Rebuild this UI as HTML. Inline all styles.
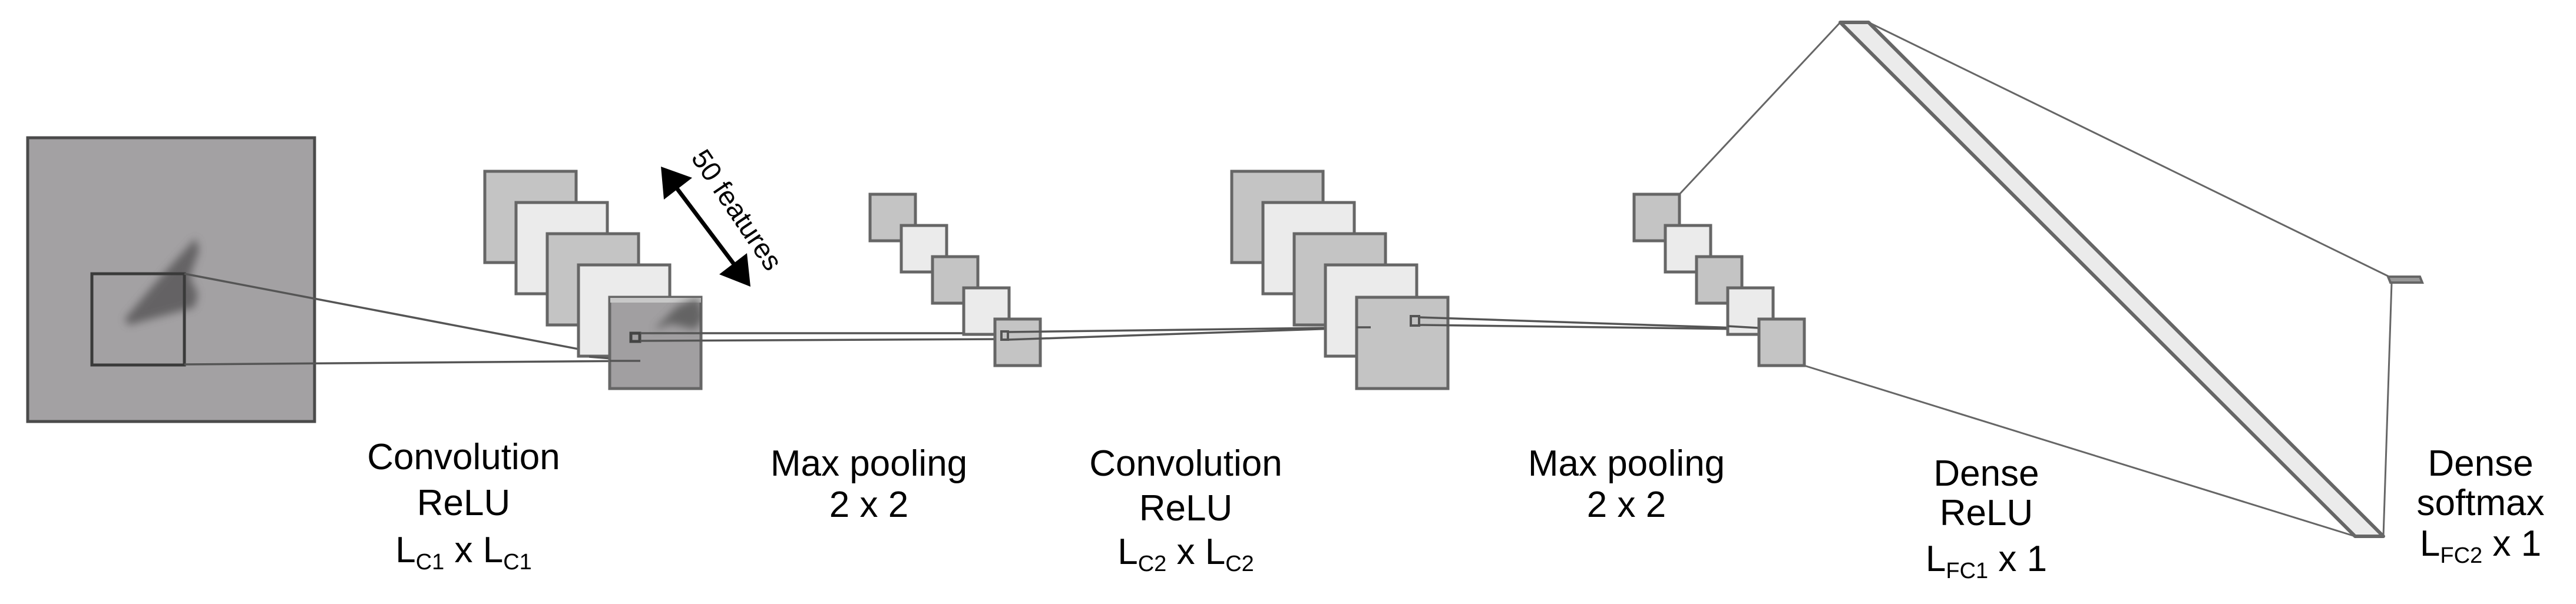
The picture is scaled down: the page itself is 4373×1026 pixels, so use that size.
<!DOCTYPE html>
<html><head><meta charset="utf-8"><style>html,body{margin:0;padding:0;background:#fff}svg{display:block}</style></head>
<body>
<svg width="4373" height="1026" viewBox="0 0 4373 1026" xmlns="http://www.w3.org/2000/svg" font-family="Liberation Sans, sans-serif">
<defs>
<filter id="bl" x="-50%" y="-50%" width="200%" height="200%"><feGaussianBlur stdDeviation="7"/></filter>
<clipPath id="c1"><rect x="1036" y="506" width="154" height="151"/></clipPath>
</defs>
<!-- input -->
<rect x="47" y="234" width="487" height="482" fill="#a3a1a3" stroke="#4a4a4a" stroke-width="5"/>
<g filter="url(#bl)" fill="#5a585a" opacity="0.85">
<path d="M332 405 L338 425 L322 470 L336 500 L330 522 L300 530 L218 552 L212 542 L260 485 L300 440 Z"/>
</g>
<rect x="156" y="465" width="157" height="155" fill="none" stroke="#3a3a3a" stroke-width="5"/>
<line x1="313" y1="465" x2="1087" y2="613" stroke="#555" stroke-width="3.5"/>
<line x1="313" y1="619" x2="1087" y2="613" stroke="#555" stroke-width="3.5"/>
<!-- conv1 -->
<rect x="823" y="291" width="155" height="155" fill="#c4c4c4" stroke="#666" stroke-width="5"/>
<rect x="876" y="344" width="155" height="155" fill="#ebebeb" stroke="#666" stroke-width="5"/>
<rect x="929" y="397" width="155" height="155" fill="#c4c4c4" stroke="#666" stroke-width="5"/>
<rect x="982" y="450" width="155" height="155" fill="#ebebeb" stroke="#666" stroke-width="5"/>
<line x1="1000" y1="606" x2="1087" y2="613" stroke="#555" stroke-width="3.5"/>
<rect x="1035" y="505" width="155" height="155" fill="#a19fa1" stroke="#666" stroke-width="5"/>
<g clip-path="url(#c1)">
<rect x="1036" y="506" width="154" height="8" fill="#c8c8c8"/>
<g filter="url(#bl)" fill="#555" opacity="0.8"><path d="M1110 560 L1150 520 L1185 505 L1195 540 L1180 560 L1140 550 Z"/></g>
</g>
<line x1="1035" y1="613" x2="1087" y2="613" stroke="#555" stroke-width="3.5"/>
<rect x="1071" y="566" width="15" height="14" fill="none" stroke="#444" stroke-width="5"/>
<!-- arrow -->
<line x1="1140" y1="308" x2="1256" y2="462" stroke="#000" stroke-width="7"/>
<polygon points="1122,283 1175,302 1127,339" fill="#000"/>
<polygon points="1274,487 1221,466 1268,430" fill="#000"/>
<text x="0" y="0" font-size="47" transform="translate(1172,268) rotate(56)">50 features</text>
<!-- lines conv1 -> pool1 -->
<line x1="1087" y1="566" x2="1705" y2="566" stroke="#555" stroke-width="3.5"/>
<line x1="1087" y1="579" x2="1705" y2="576" stroke="#555" stroke-width="3.5"/>
<!-- pool1 -->
<rect x="1477" y="330" width="77" height="79" fill="#c4c4c4" stroke="#666" stroke-width="5"/>
<rect x="1530" y="383" width="77" height="79" fill="#ebebeb" stroke="#666" stroke-width="5"/>
<rect x="1583" y="436" width="77" height="79" fill="#c4c4c4" stroke="#666" stroke-width="5"/>
<rect x="1636" y="489" width="77" height="79" fill="#ebebeb" stroke="#666" stroke-width="5"/>
<rect x="1689" y="542" width="77" height="79" fill="#c4c4c4" stroke="#666" stroke-width="5"/>
<rect x="1700" y="563" width="11" height="14" fill="none" stroke="#555" stroke-width="4"/>
<line x1="1711" y1="564" x2="2327" y2="556" stroke="#555" stroke-width="3.5"/>
<line x1="1711" y1="577" x2="2327" y2="556" stroke="#555" stroke-width="3.5"/>
<!-- conv2 -->
<rect x="2091" y="291" width="155" height="155" fill="#c4c4c4" stroke="#666" stroke-width="5"/>
<rect x="2144" y="344" width="155" height="155" fill="#ebebeb" stroke="#666" stroke-width="5"/>
<rect x="2197" y="397" width="155" height="155" fill="#c4c4c4" stroke="#666" stroke-width="5"/>
<rect x="2250" y="450" width="155" height="155" fill="#ebebeb" stroke="#666" stroke-width="5"/>
<rect x="2303" y="505" width="155" height="155" fill="#c4c4c4" stroke="#666" stroke-width="5"/>
<line x1="2303" y1="556" x2="2327" y2="556" stroke="#555" stroke-width="3.5"/>
<rect x="2395" y="537" width="14" height="16" fill="none" stroke="#555" stroke-width="4"/>
<line x1="2409" y1="539" x2="3036" y2="560" stroke="#555" stroke-width="3.5"/>
<line x1="2409" y1="552" x2="3036" y2="560" stroke="#555" stroke-width="3.5"/>
<!-- pool2 -->
<rect x="2774" y="330" width="77" height="79" fill="#c4c4c4" stroke="#666" stroke-width="5"/>
<rect x="2827" y="383" width="77" height="79" fill="#ebebeb" stroke="#666" stroke-width="5"/>
<rect x="2880" y="436" width="77" height="79" fill="#c4c4c4" stroke="#666" stroke-width="5"/>
<rect x="2933" y="489" width="77" height="79" fill="#ebebeb" stroke="#666" stroke-width="5"/>
<line x1="2933" y1="554" x2="3036" y2="560" stroke="#555" stroke-width="3.5"/>
<rect x="2986" y="542" width="77" height="79" fill="#c4c4c4" stroke="#666" stroke-width="5"/>
<!-- dense connections -->
<line x1="2851" y1="330" x2="3124" y2="38" stroke="#666" stroke-width="3"/>
<line x1="3063" y1="621" x2="3998" y2="911" stroke="#666" stroke-width="3"/>
<line x1="3172" y1="38" x2="4058" y2="471" stroke="#666" stroke-width="3"/>
<line x1="4060" y1="481" x2="4046" y2="911" stroke="#666" stroke-width="3"/>
<polygon points="3124,38 3172,38 4046,911 3998,911" fill="#ebebeb" stroke="#666" stroke-width="6" stroke-linejoin="round"/>
<polygon points="4054,470 4108,470 4112,480 4058,480" fill="#999" stroke="#666" stroke-width="4"/>
<!-- labels -->
<g font-size="62" text-anchor="middle" fill="#000">
<text x="787" y="797">Convolution</text>
<text x="787" y="875">ReLU</text>
<text x="787" y="955">L<tspan font-size="38" dy="12">C1</tspan><tspan dy="-12"> x L</tspan><tspan font-size="38" dy="12">C1</tspan></text>
<text x="1475" y="808">Max pooling</text>
<text x="1475" y="878">2 x 2</text>
<text x="2013" y="808">Convolution</text>
<text x="2013" y="884">ReLU</text>
<text x="2013" y="958">L<tspan font-size="38" dy="12">C2</tspan><tspan dy="-12"> x L</tspan><tspan font-size="38" dy="12">C2</tspan></text>
<text x="2761" y="808">Max pooling</text>
<text x="2761" y="878">2 x 2</text>
<text x="3372" y="825">Dense</text>
<text x="3372" y="892">ReLU</text>
<text x="3372" y="970">L<tspan font-size="38" dy="12">FC1</tspan><tspan dy="-12"> x 1</tspan></text>
<text x="4211" y="808">Dense</text>
<text x="4211" y="875">softmax</text>
<text x="4211" y="944">L<tspan font-size="38" dy="12">FC2</tspan><tspan dy="-12"> x 1</tspan></text>
</g>
</svg>
</body></html>
